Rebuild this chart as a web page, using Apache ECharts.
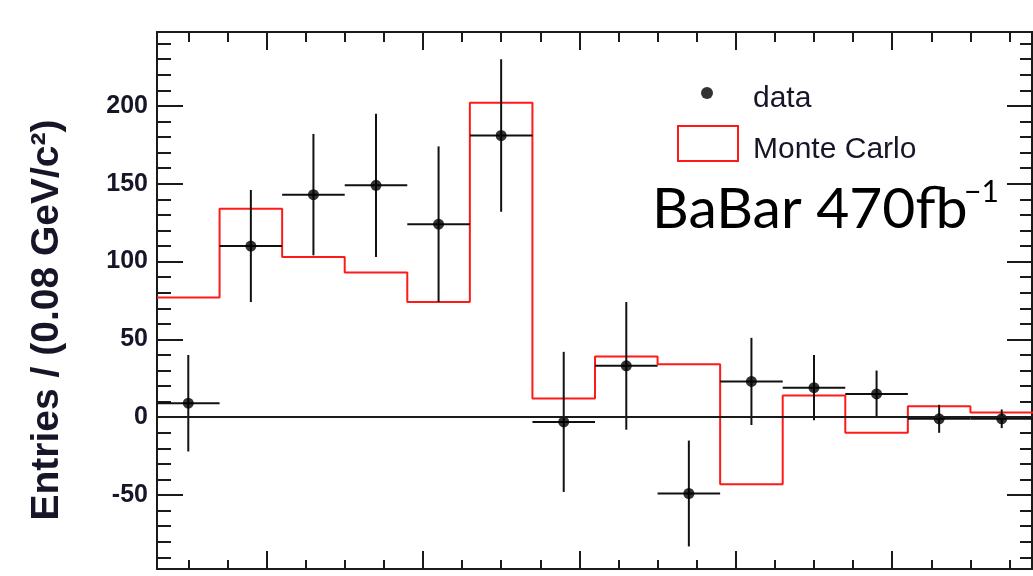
<!DOCTYPE html>
<html>
<head>
<meta charset="utf-8">
<script src="https://cdn.jsdelivr.net/npm/echarts@6/dist/echarts.min.js"></script>
<style>
  html, body { margin: 0; padding: 0; background: #fff; overflow: hidden; }
  #chart { width: 1033px; height: 576px; }
</style>
</head>
<body>
<div id="chart"></div>
<script>
// bins of 0.08 GeV/c^2, lower edges + last upper edge
const binEdges = [-0.14, -0.06, 0.02, 0.10, 0.18, 0.26, 0.34, 0.42, 0.50, 0.58, 0.66, 0.74, 0.82, 0.90, 0.98];
const mcValues = [77, 134, 103, 93, 74, 202, 12, 39, 34, -43, 14, -10, 7, 3];
const dataValues = [9, 110, 143, 149, 124, 181, -3, 33, -49, 23, 19, 15, -1, -1];
const dataErrors = [31, 36, 39, 46, 50, 49, 45, 41, 34, 28, 21, 15, 9, 6];

const yMajorTicks = [-50, 0, 50, 100, 150, 200];
const yMinorTicks = [-90, -80, -70, -60, -50, -40, -30, -20, -10, 0, 10, 20, 30, 40, 50, 60, 70, 80, 90, 100,
  110, 120, 130, 140, 150, 160, 170, 180, 190, 200, 210, 220, 230, 240];
const xMajorTicks = [0, 0.2, 0.4, 0.6, 0.8];
const xMinorTicks = [-0.1, -0.05, 0, 0.05, 0.1, 0.15, 0.2, 0.25, 0.3, 0.35, 0.4, 0.45, 0.5, 0.55, 0.6,
  0.65, 0.7, 0.75, 0.8, 0.85, 0.9, 0.95];

const X_MIN = -0.14, X_MAX = 0.98;
const Y_MIN = -97.5, Y_MAX = 247.5;
const frameColor = '#1a1a1a';
const textColor = '#161628';

// step histogram points (step at end of each bin)
const mcLine = binEdges.map((e, i) => [e, mcValues[Math.min(i, mcValues.length - 1)]]);
// data points: centre, value, error, bin low, bin high
const dataPts = dataValues.map((v, i) => [
  (binEdges[i] + binEdges[i + 1]) / 2, v, dataErrors[i], binEdges[i], binEdges[i + 1]
]);

function xAx(gridIndex, position, ticks, len, showLine) {
  return {
    type: 'value', gridIndex: gridIndex, position: position, min: X_MIN, max: X_MAX,
    axisLine: { show: showLine, onZero: false, lineStyle: { color: frameColor, width: 2 } },
    axisTick: { show: !!ticks, inside: true, length: len, customValues: ticks || [], lineStyle: { color: frameColor, width: 2 } },
    axisLabel: { show: false },
    splitLine: { show: false }
  };
}
function yAx(gridIndex, position, ticks, len, showLine, labels) {
  return {
    type: 'value', gridIndex: gridIndex, position: position, min: Y_MIN, max: Y_MAX,
    axisLine: { show: showLine, onZero: false, lineStyle: { color: frameColor, width: 2 } },
    axisTick: { show: !!ticks, inside: true, length: len, customValues: ticks || [], lineStyle: { color: frameColor, width: 2 } },
    axisLabel: labels ? {
      show: true, customValues: ticks, margin: 9, color: textColor,
      fontFamily: 'Liberation Sans', fontWeight: 'bold', fontSize: 25
    } : { show: false },
    splitLine: { show: false }
  };
}

const chart = echarts.init(document.getElementById('chart'));
const gridBox = { left: 157, right: -2, top: 32, bottom: 7 };

chart.setOption({
  animation: false,
  backgroundColor: '#fff',
  grid: [
    Object.assign({}, gridBox),
    Object.assign({}, gridBox),
    { left: 157, right: 1, top: 32, bottom: 7 }   // only for the right frame line
  ],
  xAxis: [
    xAx(0, 'bottom', xMajorTicks, 18, true),
    xAx(0, 'top', xMajorTicks, 18, true),
    xAx(1, 'bottom', xMinorTicks, 9, false),
    xAx(1, 'top', xMinorTicks, 10, false),
    xAx(2, 'bottom', null, 0, false)
  ],
  yAxis: [
    yAx(0, 'left', yMajorTicks, 26, true, true),
    yAx(0, 'right', yMajorTicks, 26, false, false),
    yAx(1, 'left', yMinorTicks, 14, false, false),
    yAx(1, 'right', yMinorTicks, 13, false, false),
    yAx(2, 'right', null, 0, true, false)
  ],
  legend: [
    {
      left: 701, top: 72, padding: 0, selectedMode: false,
      itemWidth: 62, itemHeight: 12,
      data: [{ name: 'data', icon: 'circle' }],
      formatter: '{t|{name}}',
      textStyle: {
        fontFamily: 'Liberation Sans', fontSize: 30, color: textColor,
        rich: { t: { fontFamily: 'Liberation Sans', fontSize: 30, color: textColor, lineHeight: 30, padding: [12, 0, 0, 10] } }
      }
    },
    {
      left: 677, top: 122.5, padding: 0, selectedMode: false,
      itemWidth: 60, itemHeight: 35,
      data: [{ name: 'Monte Carlo', icon: 'rect',
        itemStyle: { color: '#fff', borderColor: '#ff1a1a', borderWidth: 2 } }],
      formatter: '{t|{name}}',
      textStyle: {
        fontFamily: 'Liberation Sans', fontSize: 30, color: textColor,
        rich: { t: { fontFamily: 'Liberation Sans', fontSize: 30, color: textColor, lineHeight: 30, padding: [12, 0, 0, 10] } }
      }
    }
  ],
  graphic: [
    {
      type: 'text', x: 47, y: 320, rotation: Math.PI / 2,
      style: {
        text: 'Entries / (0.08 GeV/c²)', fill: textColor,
        font: 'bold 39px "Liberation Sans"', align: 'center', verticalAlign: 'middle'
      }
    },
    {
      type: 'text', x: 652, y: 210,
      style: {
        text: 'BaBar 470fb', fill: '#000', font: '57px Lato',
        align: 'left', verticalAlign: 'middle'
      }
    },
    {
      type: 'text', x: 964, y: 192,
      style: {
        text: '−1', fill: '#000', font: '30px Lato',
        align: 'left', verticalAlign: 'middle'
      }
    }
  ],
  series: [
    {
      name: 'Monte Carlo', type: 'line', xAxisIndex: 0, yAxisIndex: 0,
      data: mcLine, step: 'end', showSymbol: false, symbol: 'none', z: 2,
      lineStyle: { color: '#ff1a1a', width: 2 },
      itemStyle: { color: '#ff1a1a' },
      markLine: {
        silent: true, symbol: 'none', label: { show: false },
        lineStyle: { color: '#1a1a1a', width: 2, type: 'solid' },
        data: [{ yAxis: 0 }]
      }
    },
    {
      type: 'custom', xAxisIndex: 0, yAxisIndex: 0, z: 3,
      dimensions: ['x', 'y', 'err', 'lo', 'hi'],
      encode: { x: 0, y: 1 },
      data: dataPts,
      renderItem: function (params, api) {
        const x = api.value(0), y = api.value(1), e = api.value(2);
        const top = api.coord([x, y + e]);
        const bot = api.coord([x, y - e]);
        const l = api.coord([api.value(3), y]);
        const r = api.coord([api.value(4), y]);
        const st = { stroke: '#111', lineWidth: 2 };
        return {
          type: 'group',
          children: [
            { type: 'line', shape: { x1: top[0], y1: top[1], x2: bot[0], y2: bot[1] }, style: st },
            { type: 'line', shape: { x1: l[0], y1: l[1], x2: r[0], y2: r[1] }, style: st }
          ]
        };
      }
    },
    {
      name: 'data', type: 'scatter', xAxisIndex: 0, yAxisIndex: 0, z: 4,
      symbol: 'circle', symbolSize: 11,
      itemStyle: { color: '#000' },
      data: dataPts.map(p => [p[0], p[1]])
    }
  ]
});
</script>
</body>
</html>
